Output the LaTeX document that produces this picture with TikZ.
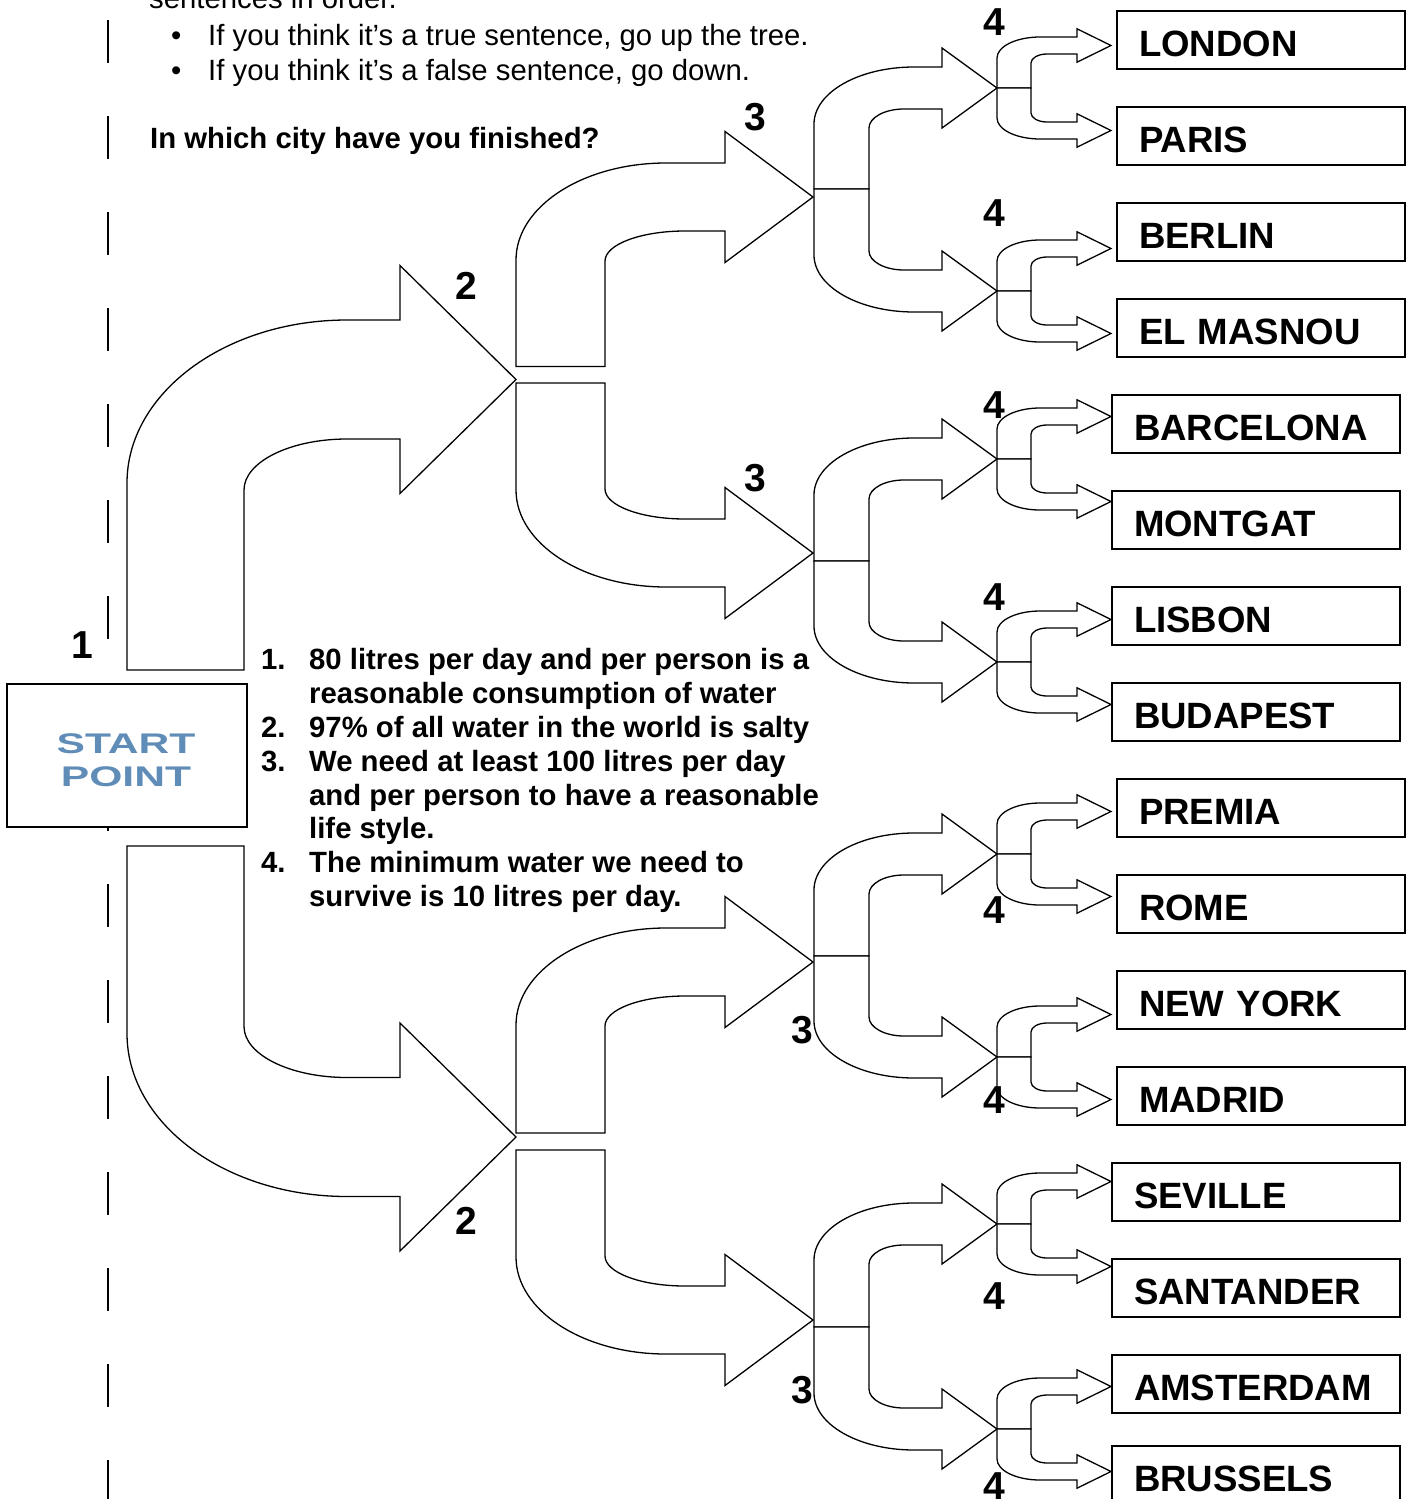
\documentclass[tikz,border=0pt]{standalone}
\usepackage{fontspec}
\setmainfont{Liberation Sans}
\usepackage{graphicx}
\definecolor{startblue}{RGB}{96,141,184}
\tikzset{
 shp/.style={draw=black, line width=1.3pt, fill=white, line join=miter},
 citybox/.style={draw=black, line width=2pt, fill=white, anchor=north west,
   minimum width=288pt, minimum height=58pt, inner xsep=22pt, inner ysep=0pt,
   text width=244pt, align=left, text height=32pt, text depth=0pt,
   font=\fontsize{36.6}{40}\selectfont\bfseries},
 lvl/.style={inner sep=0pt, font=\fontsize{39}{42}\selectfont\bfseries},
 body/.style={inner sep=0pt, anchor=base west, font=\fontsize{29.3}{34}\selectfont},
 bodyb/.style={inner sep=0pt, anchor=base west, font=\fontsize{29.3}{34}\selectfont\bfseries},
 dashline/.style={draw=black, line width=2.2pt, dash pattern=on 43pt off 53pt},
}
\newcommand\setlev[9]{\def\aXO{#1}\def\aXI{#2}\def\aXH{#3}\def\aXT{#4}\def\aHS{#5}\def\aHH{#6}\def\aRXO{#7}\def\aRYO{#8}\def\aRXI{#9}}
\newcommand\barrow[3]{%
 \draw[shp] ({\aXO},{#1}) -- ({\aXO},{#2+(#3)*(\aHS-\aRYO)})
 .. controls ({\aXO},{#2+(#3)*(\aHS-0.448*\aRYO)}) and ({\aXO+0.448*\aRXO},{#2+(#3)*\aHS}) .. ({\aXO+\aRXO},{#2+(#3)*\aHS})
 -- ({\aXH},{#2+(#3)*\aHS}) -- ({\aXH},{#2+(#3)*\aHH}) -- ({\aXT},{#2})
 -- ({\aXH},{#2-(#3)*\aHH}) -- ({\aXH},{#2-(#3)*\aHS}) -- ({\aXI+\aRXI},{#2-(#3)*\aHS})
 .. controls ({\aXI+0.448*\aRXI},{#2-(#3)*\aHS}) and ({\aXI},{#2-(#3)*(\aHS+0.448*\aRYI)}) .. ({\aXI},{#2-(#3)*(\aHS+\aRYI)})
 -- ({\aXI},{#1}) -- cycle;}
\begin{document}
\begin{tikzpicture}[x=1pt,y=-1pt]
\fill[white] (0,0) rectangle (1413,1499);
\useasboundingbox (0,0) rectangle (1413,1499);

% dashed margin line
\coordinate (dtop) at (108,20);
\coordinate (dbot) at (108,1510);
\draw[dashline] (dtop) -- (dbot);

% level 1 arrows
\setlev{127}{244}{400}{516}{59.5}{114}{220}{163}{103}\def\aRYI{51}
\barrow{670}{379.5}{-1}
\barrow{846}{1137}{1}

% level 2 arrows
\setlev{516}{605}{725}{813}{34}{65.5}{150}{97}{80}\def\aRYI{30}
\barrow{366.5}{197}{-1}
\barrow{383}{553}{1}
\barrow{1133}{962}{-1}
\barrow{1150}{1320}{1}

% level 3 arrows
\setlev{814}{869}{942}{997}{21}{40}{100}{57}{35}\def\aRYI{19}
\barrow{189}{88}{-1}\barrow{189}{291}{1}
\barrow{561}{459}{-1}\barrow{561}{662}{1}
\barrow{956}{854}{-1}\barrow{956}{1057}{1}
\barrow{1327}{1224}{-1}\barrow{1327}{1429}{1}

% level 4 arrows
\setlev{997}{1031}{1077}{1111}{8.5}{16.7}{43}{21}{16}\def\aRYI{9}
\foreach \n in {88,291,459,662,854,1057,1224,1429}{%
  \barrow{\n}{\n-42.5}{-1}\barrow{\n}{\n+42.5}{1}}

% start box
\node[draw=black, line width=1.5pt, fill=white, minimum width=240pt, minimum height=143pt,
      anchor=north west, inner sep=0pt] (start) at (6,683) {};
\node[inner sep=0pt, anchor=base, text=startblue, font=\fontsize{28.4}{30}\selectfont\bfseries]
  (startA) at (126,753) {\scalebox{1.5}[1]{START}};
\node[inner sep=0pt, anchor=base, text=startblue, font=\fontsize{28.4}{30}\selectfont\bfseries]
  (startB) at (126,786) {\scalebox{1.5}[1]{POINT}};

% city boxes
\node[citybox] (c1) at (1116,10) {LONDON};
\node[citybox] (c2) at (1116,106) {PARIS};
\node[citybox] (c3) at (1116,202) {BERLIN};
\node[citybox] (c4) at (1116,298) {EL MASNOU};
\node[citybox] (c5) at (1111,394) {BARCELONA};
\node[citybox] (c6) at (1111,490) {MONTGAT};
\node[citybox] (c7) at (1111,586) {LISBON};
\node[citybox] (c8) at (1111,682) {BUDAPEST};
\node[citybox] (c9) at (1116,778) {PREMIA};
\node[citybox] (c10) at (1116,874) {ROME};
\node[citybox] (c11) at (1116,970) {NEW YORK};
\node[citybox] (c12) at (1116,1066) {MADRID};
\node[citybox] (c13) at (1111,1162) {SEVILLE};
\node[citybox] (c14) at (1111,1258) {SANTANDER};
\node[citybox] (c15) at (1111,1354) {AMSTERDAM};
\node[citybox] (c16) at (1111,1445) {BRUSSELS};

% level labels
\node[lvl] (n1) at (82,645) {1};
\node[lvl] (n2a) at (466,286) {2};
\node[lvl] (n2b) at (466,1221) {2};
\node[lvl] (n3a) at (755,117) {3};
\node[lvl] (n3b) at (755,478) {3};
\node[lvl] (n3c) at (802,1030) {3};
\node[lvl] (n3d) at (802,1390) {3};
\node[lvl] (n4a) at (994,22) {4};
\node[lvl] (n4b) at (994,213) {4};
\node[lvl] (n4c) at (994,405) {4};
\node[lvl] (n4d) at (994,597) {4};
\node[lvl] (n4e) at (994,910) {4};
\node[lvl] (n4f) at (994,1100) {4};
\node[lvl] (n4g) at (994,1296) {4};
\node[lvl] (n4h) at (994,1486) {4};

% top instructions
\node[body] (t0) at (149,9) {sentences in order.};
\node[body] (b1) at (171,45) {\textbullet};
\node[body] (t1) at (208,45) {If you think it’s a true sentence, go up the tree.};
\node[body] (b2) at (171,80) {\textbullet};
\node[body] (t2) at (208,80) {If you think it’s a false sentence, go down.};
\node[bodyb] (q) at (150,148) {In which city have you finished?};

% numbered sentences
\node[bodyb] (s1n) at (261,669) {1.};
\node[bodyb] (s1a) at (309,669) {80 litres per day and per person is a};
\node[bodyb] (s1b) at (309,703) {reasonable consumption of water};
\node[bodyb] (s2n) at (261,737) {2.};
\node[bodyb] (s2a) at (309,737) {97\% of all water in the world is salty};
\node[bodyb] (s3n) at (261,771) {3.};
\node[bodyb] (s3a) at (309,771) {We need at least 100 litres per day};
\node[bodyb] (s3b) at (309,805) {and per person to have a reasonable};
\node[bodyb] (s3c) at (309,838) {life style.};
\node[bodyb] (s4n) at (261,872) {4.};
\node[bodyb] (s4a) at (309,872) {The minimum water we need to};
\node[bodyb] (s4b) at (309,906) {survive is 10 litres per day.};
\end{tikzpicture}
\end{document}
